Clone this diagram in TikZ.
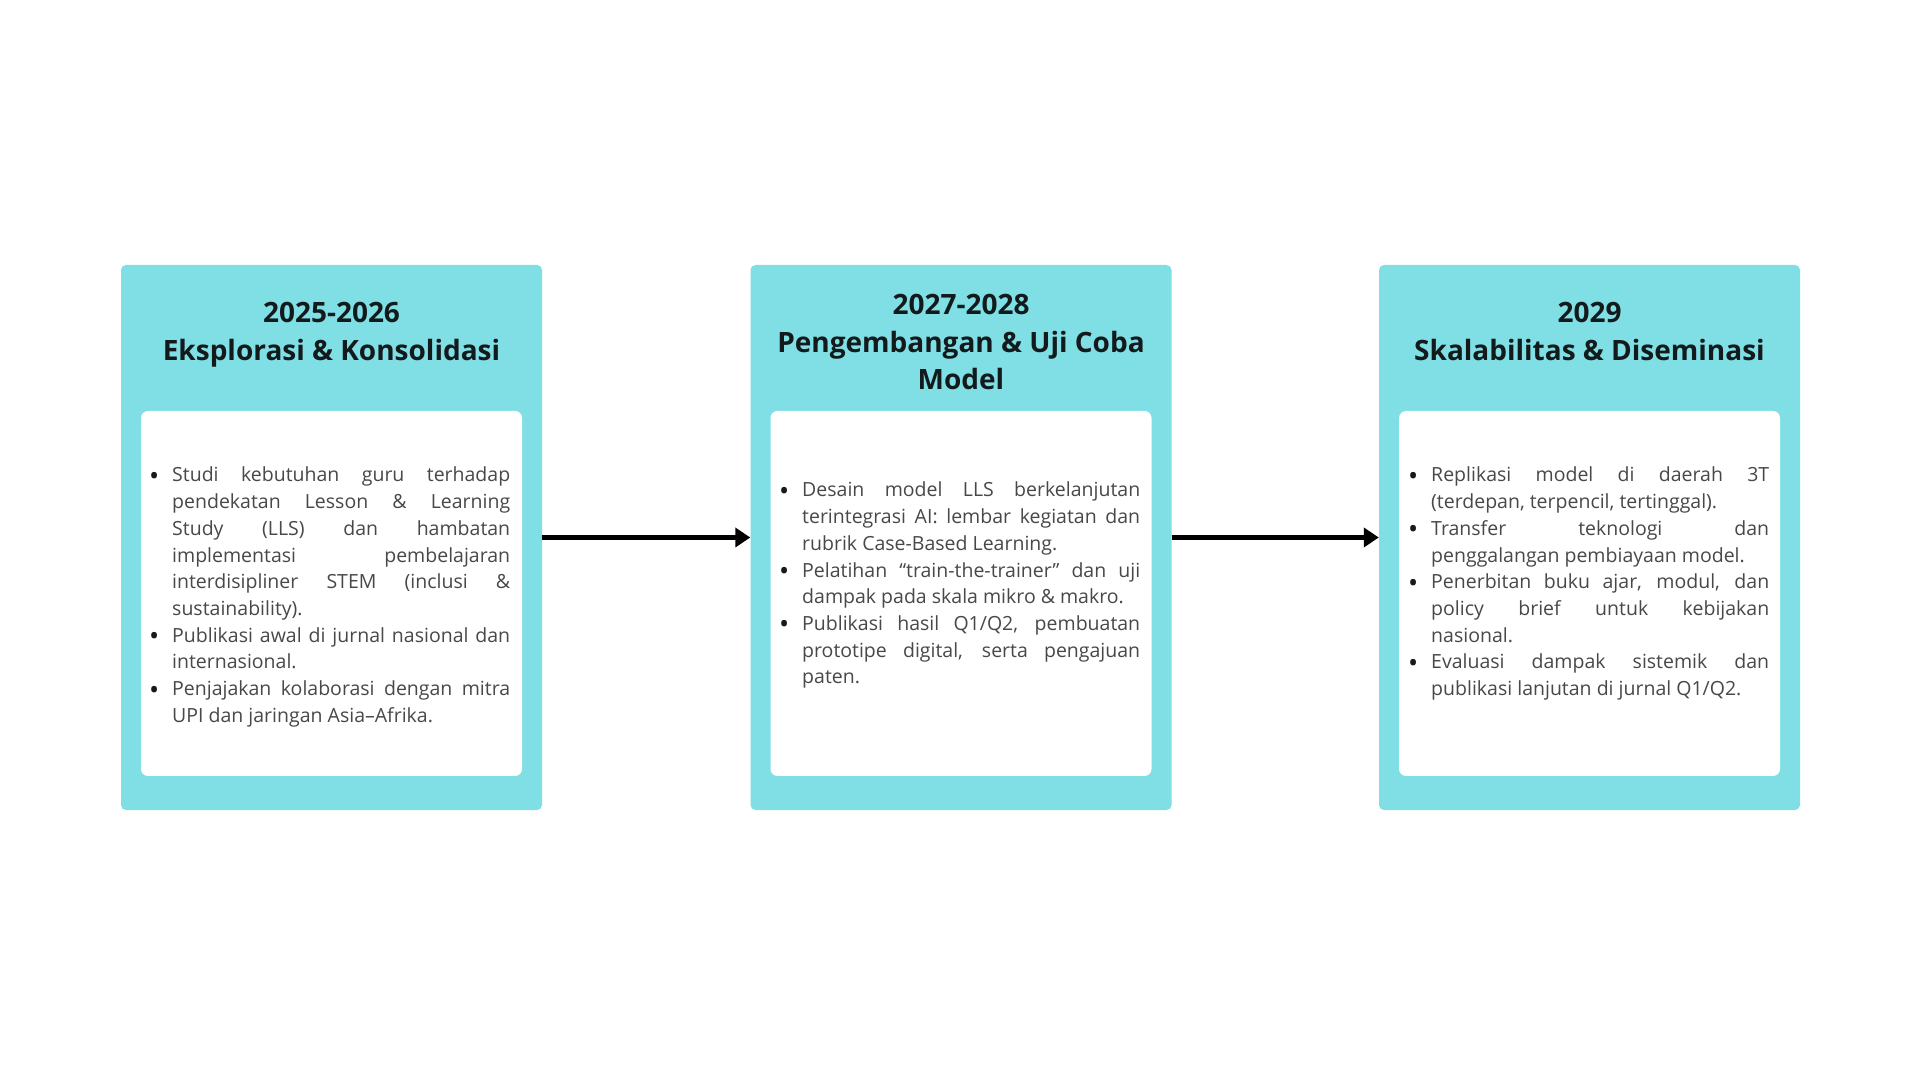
\documentclass[tikz,border=0pt]{standalone}
\usepackage{fontspec}
\setmainfont{Open Sans}
\usetikzlibrary{arrows.meta}
\definecolor{cyanbox}{RGB}{128,222,229}
\definecolor{bodygray}{RGB}{72,72,72}
\definecolor{bulletc}{RGB}{25,25,25}
\definecolor{titleblack}{RGB}{18,26,28}
\newlength{\lw}\setlength{\lw}{338pt}
\newcommand{\bul}{\raisebox{-3.5pt}{\fontsize{27}{27}\selectfont\textcolor{bulletc}{\textbullet}}}
\newcommand{\bl}[1]{\hbox to \lw{\llap{\bul\hspace{13pt}}#1}}
\newcommand{\jl}[1]{\hbox to \lw{#1}}
\newcommand{\el}[1]{\hbox to \lw{#1\hfil}}
\newcommand{\ttl}[1]{\vtop{\halign{\hfil##\hfil\cr#1\crcr}}}
\tikzset{
  outerbox/.style={fill=cyanbox, draw=none, rounded corners=5pt, minimum width=421pt, minimum height=545pt, inner sep=0pt},
  innerbox/.style={fill=white, draw=none, rounded corners=7pt, minimum width=381pt, minimum height=365pt, inner sep=0pt},
  titletxt/.style={inner sep=0pt, text=titleblack, font=\fontsize{28}{37.5}\selectfont\bfseries},
  bodytxt/.style={inner sep=0pt, text=bodygray, font=\fontsize{19.5}{26.7}\selectfont},
  arr/.style={line width=4.5pt, draw=black, -{Triangle[length=15pt,width=19pt]}}
}
\begin{document}
\begin{tikzpicture}[x=1pt,y=1pt]
\useasboundingbox[fill=white] (0,0) rectangle (1920,1080);
% outer boxes
\node[outerbox] (b1) at (331.5,542.5) {};
\node[outerbox] (b2) at (961,542.5) {};
\node[outerbox] (b3) at (1589.5,542.5) {};
% inner boxes
\node[innerbox] (i1) at (331.5,486.5) {};
\node[innerbox] (i2) at (961,486.5) {};
\node[innerbox] (i3) at (1589.5,486.5) {};
% titles
\node[titletxt, anchor=base] (h1) at (331.5,757) {\ttl{2025-2026\cr Eksplorasi \& Konsolidasi}};
\node[titletxt, anchor=base] (h2) at (961,765) {\ttl{2027-2028\cr Pengembangan \& Uji Coba\cr Model}};
\node[titletxt, anchor=base] (h3) at (1589.5,757) {\ttl{2029\cr Skalabilitas \& Diseminasi}};
% body texts
\node[bodytxt, anchor=base west] (t1) at (172,598) {\vtop{%
\bl{Studi kebutuhan guru terhadap}
\jl{pendekatan Lesson \& Learning}
\jl{Study (LLS) dan hambatan}
\jl{implementasi pembelajaran}
\jl{interdisipliner STEM (inclusi \&}
\el{sustainability).}
\bl{Publikasi awal di jurnal nasional dan}
\el{internasional.}
\bl{Penjajakan kolaborasi dengan mitra}
\el{UPI dan jaringan Asia--Afrika.}
}};
\node[bodytxt, anchor=base west] (t2) at (802,583) {\vtop{%
\bl{Desain model LLS berkelanjutan}
\jl{terintegrasi AI: lembar kegiatan dan}
\el{rubrik Case-Based Learning.}
\bl{Pelatihan “train-the-trainer” dan uji}
\el{dampak pada skala mikro \& makro.}
\bl{Publikasi hasil Q1/Q2, pembuatan}
\jl{prototipe digital, serta pengajuan}
\el{paten.}
}};
\node[bodytxt, anchor=base west] (t3) at (1431,598) {\vtop{%
\bl{Replikasi model di daerah 3T}
\el{(terdepan, terpencil, tertinggal).}
\bl{Transfer teknologi dan}
\el{penggalangan pembiayaan model.}
\bl{Penerbitan buku ajar, modul, dan}
\jl{policy brief untuk kebijakan}
\el{nasional.}
\bl{Evaluasi dampak sistemik dan}
\el{publikasi lanjutan di jurnal Q1/Q2.}
}};
% arrows
\draw[arr] (b1.east) -- (b2.west);
\draw[arr] (b2.east) -- (b3.west);
\end{tikzpicture}
\end{document}
